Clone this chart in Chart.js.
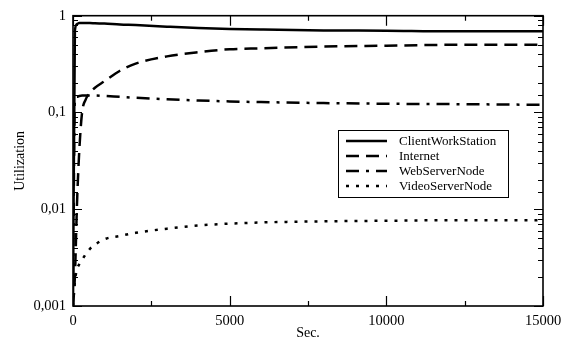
<!DOCTYPE html>
<html>
<head>
<meta charset="utf-8">
<script src="https://cdn.jsdelivr.net/npm/chart.js@4.4.1/dist/chart.umd.min.js"></script>
<style>
  html, body { margin: 0; padding: 0; background: #fff; }
  #wrap { width: 574px; height: 345px; position: relative; }
</style>
</head>
<body>
<div id="wrap"><canvas id="chart" width="574" height="345"></canvas></div>
<script>
// simulation time (s)
const times = [0, 60, 130, 200, 290, 400, 540, 700, 1000, 1500, 2000, 3000, 4000, 5000, 6000, 8000, 10000, 12000, 15000];

const clientWorkStation = [0.001, 0.7, 0.82, 0.84, 0.84, 0.84, 0.84, 0.835, 0.83, 0.81, 0.8, 0.77, 0.745, 0.73, 0.72, 0.705, 0.7, 0.69, 0.69];
const internet = [0.001, 0.002, 0.012, 0.04, 0.1, 0.135, 0.16, 0.18, 0.21, 0.27, 0.32, 0.38, 0.42, 0.45, 0.46, 0.48, 0.49, 0.5, 0.5];
const webServerNode = [0.001, 0.135, 0.145, 0.148, 0.15, 0.15, 0.15, 0.15, 0.148, 0.145, 0.142, 0.137, 0.133, 0.13, 0.128, 0.125, 0.123, 0.122, 0.12];
const videoServerNode = [0.001, 0.0018, 0.0024, 0.0027, 0.003, 0.0034, 0.0039, 0.0043, 0.0049, 0.0053, 0.0057, 0.0063, 0.0068, 0.0071, 0.0073, 0.0075, 0.0076, 0.0077, 0.0077];

const seriesNames = ['ClientWorkStation', 'Internet', 'WebServerNode', 'VideoServerNode'];
const xTickStep = 2500;
const xLabelStep = 5000;

const FONT = 'Liberation Serif, Times New Roman, serif';

function pairs(values) {
  return times.map((t, i) => ({ x: t, y: values[i] }));
}

function makeDataset(label, values, dash) {
  return {
    label,
    data: pairs(values),
    borderColor: '#000',
    borderWidth: 2.5,
    borderDash: dash,
    borderCapStyle: 'butt',
    pointRadius: 0,
    fill: false,
    cubicInterpolationMode: 'monotone'
  };
}

function isDecade(v) {
  const l = Math.log10(v);
  return Math.abs(l - Math.round(l)) < 1e-9;
}

// inward tick marks and plot frame
const frameTicks = {
  id: 'frameTicks',
  afterDatasetsDraw(chart) {
    const { ctx, chartArea: a, scales } = chart;
    ctx.save();
    ctx.strokeStyle = '#000';
    ctx.lineWidth = 1.2;
    ctx.beginPath();
    scales.x.ticks.forEach((t) => {
      const px = Math.round(scales.x.getPixelForValue(t.value)) + 0.5;
      const len = t.value % xLabelStep === 0 ? 10 : 5;
      ctx.moveTo(px, a.bottom);
      ctx.lineTo(px, a.bottom - len);
      ctx.moveTo(px, a.top);
      ctx.lineTo(px, a.top + len);
    });
    scales.y.ticks.forEach((t) => {
      const py = Math.round(scales.y.getPixelForValue(t.value)) + 0.5;
      const len = isDecade(t.value) ? 9 : 5;
      ctx.moveTo(a.left, py);
      ctx.lineTo(a.left + len, py);
      ctx.moveTo(a.right, py);
      ctx.lineTo(a.right - len, py);
    });
    ctx.stroke();
    ctx.lineWidth = 1.6;
    ctx.strokeRect(a.left, a.top, a.right - a.left, a.bottom - a.top);
    ctx.restore();
  }
};

// boxed legend inside plot area
const boxLegend = {
  id: 'boxLegend',
  afterDraw(chart, args, opts) {
    const { ctx } = chart;
    const b = opts.box;
    ctx.save();
    ctx.fillStyle = '#fff';
    ctx.fillRect(b.x, b.y, b.w, b.h);
    ctx.strokeStyle = '#000';
    ctx.lineWidth = 1;
    ctx.strokeRect(b.x + 0.5, b.y + 0.5, b.w, b.h);
    ctx.font = '13px ' + FONT;
    ctx.textBaseline = 'middle';
    ctx.fillStyle = '#000';
    chart.data.datasets.forEach((ds, i) => {
      const y = b.y + opts.firstRow + i * opts.rowGap;
      ctx.beginPath();
      ctx.lineWidth = ds.borderWidth;
      ctx.lineCap = 'butt';
      ctx.setLineDash(ds.borderDash || []);
      ctx.moveTo(b.x + opts.lineStart, y);
      ctx.lineTo(b.x + opts.lineEnd, y);
      ctx.stroke();
      ctx.setLineDash([]);
      ctx.fillText(ds.label, b.x + opts.textStart, y + 0.5);
    });
    ctx.restore();
  }
};

new Chart(document.getElementById('chart'), {
  type: 'line',
  data: {
    datasets: [
      makeDataset(seriesNames[0], clientWorkStation, []),
      makeDataset(seriesNames[1], internet, [13, 7]),
      makeDataset(seriesNames[2], webServerNode, [13, 7, 3, 7]),
      makeDataset(seriesNames[3], videoServerNode, [3, 7])
    ]
  },
  options: {
    responsive: false,
    animation: false,
    devicePixelRatio: 1,
    layout: { padding: { left: 0, right: 31, top: 13, bottom: 0 } },
    plugins: {
      legend: { display: false },
      tooltip: { enabled: false },
      boxLegend: {
        box: { x: 338, y: 130, w: 170, h: 67 },
        firstRow: 11,
        rowGap: 15,
        lineStart: 8,
        lineEnd: 49,
        textStart: 61
      }
    },
    scales: {
      x: {
        type: 'linear',
        min: 0,
        max: 15000,
        afterFit: (s) => { s.height = 39; },
        grid: { display: false, drawTicks: false },
        border: { display: false },
        ticks: {
          stepSize: xTickStep,
          autoSkip: false,
          maxRotation: 0,
          padding: 6,
          color: '#000',
          font: { family: FONT, size: 14.5 },
          callback: (v) => (v % xLabelStep === 0 ? String(v) : '')
        },
        title: {
          display: true,
          text: 'Sec.',
          color: '#000',
          font: { family: FONT, size: 14 },
          padding: { top: 0, bottom: 3.6 }
        }
      },
      y: {
        type: 'logarithmic',
        min: 0.001,
        max: 1,
        afterFit: (s) => { s.width = 73; },
        grid: { display: false, drawTicks: false },
        border: { display: false },
        ticks: {
          autoSkip: false,
          padding: 7,
          color: '#000',
          font: { family: FONT, size: 14.5 },
          callback: (v) => (isDecade(v) ? String(v).replace('.', ',') : '')
        },
        title: {
          display: true,
          text: 'Utilization',
          color: '#000',
          font: { family: FONT, size: 14 },
          padding: { top: 11.6, bottom: 0 }
        }
      }
    }
  },
  plugins: [frameTicks, boxLegend]
});
</script>
</body>
</html>
